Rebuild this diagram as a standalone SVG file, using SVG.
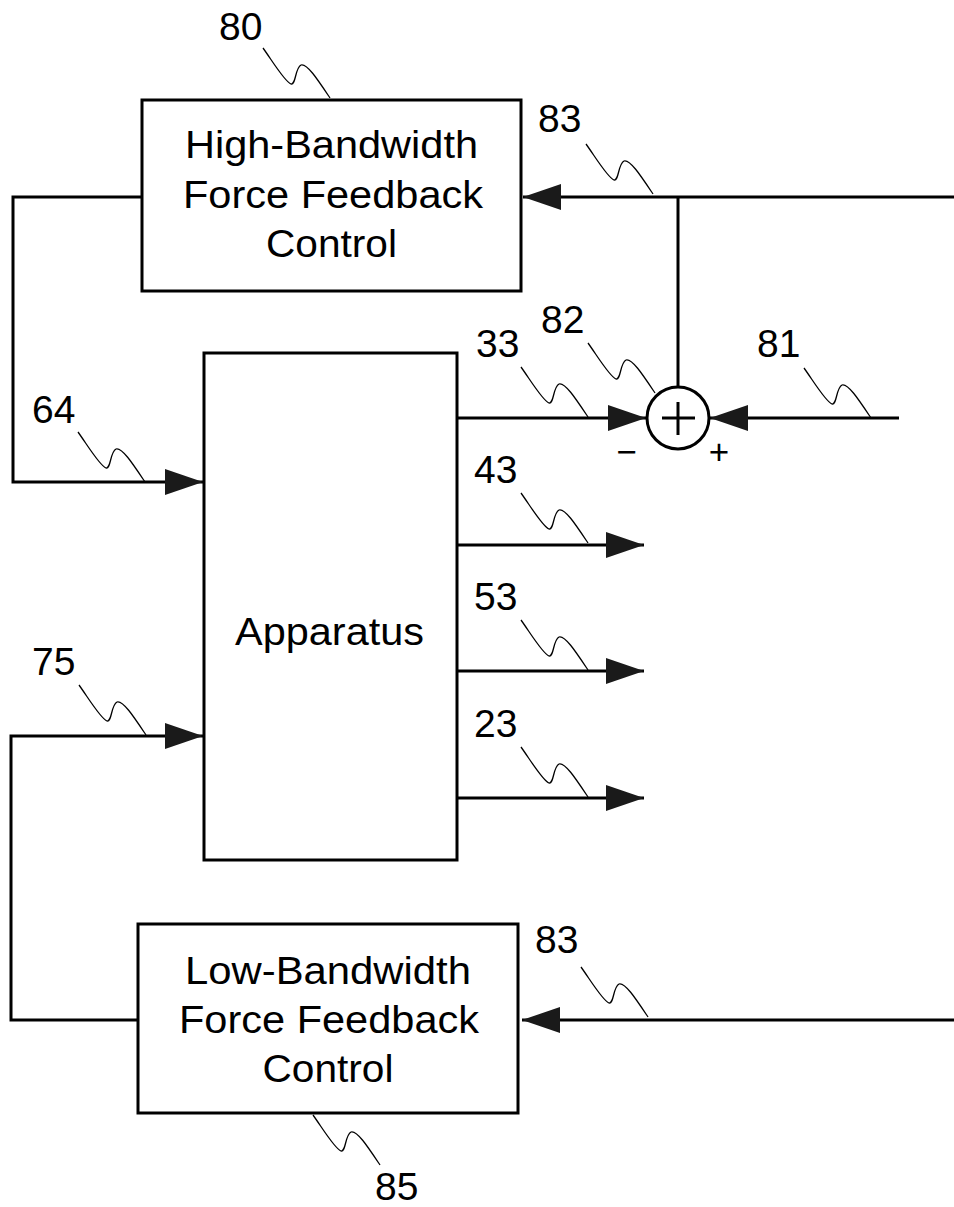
<svg xmlns="http://www.w3.org/2000/svg" xmlns:xlink="http://www.w3.org/1999/xlink" width="954" height="1207" viewBox="0 0 954 1207">
<style>
.box{fill:#fff;stroke:#000;stroke-width:3}
.ln{fill:none;stroke:#000;stroke-width:3}
.sq{fill:none;stroke:#000;stroke-width:1.3}
.t{font-family:"Liberation Sans",Arial,sans-serif;font-size:38px;fill:#000;text-anchor:middle}
.n{font-family:"Liberation Sans",Arial,sans-serif;font-size:39px;fill:#000}
.s{font-family:"Liberation Sans",Arial,sans-serif;font-size:35px;fill:#000;text-anchor:middle}
</style>
<defs>
<marker id="ah" viewBox="0 0 38 26" refX="38" refY="13" markerWidth="38" markerHeight="26" markerUnits="userSpaceOnUse" orient="auto">
<path d="M0,0 L38,13 L0,26 Z" fill="#1a1a1a"/>
</marker>
<path id="wave" d="M0,0 C10,14 22,34 28,36 C33,37 32,20 38,17 C44,15 55,32 67,50"/>
</defs>
<rect width="954" height="1207" fill="#fff"/>
<g id="connectors">
<path class="ln" d="M954,197 L523,197" marker-end="url(#ah)"/>
<path class="ln" d="M678,197 L678,387"/>
<path class="ln" d="M457,418 L646,418" marker-end="url(#ah)"/>
<path class="ln" d="M899,418 L710,418" marker-end="url(#ah)"/>
<path class="ln" d="M142,197 L13,197 L13,482 L203,482" marker-end="url(#ah)"/>
<path class="ln" d="M457,545 L644,545" marker-end="url(#ah)"/>
<path class="ln" d="M457,671 L644,671" marker-end="url(#ah)"/>
<path class="ln" d="M457,798 L644,798" marker-end="url(#ah)"/>
<path class="ln" d="M138,1020 L11,1020 L11,736 L203,736" marker-end="url(#ah)"/>
<path class="ln" d="M954,1020 L522,1020" marker-end="url(#ah)"/>
</g>
<g id="hbffc">
<rect class="box" x="142" y="100" width="379" height="191"/>
<text class="t" x="331.5" y="158" textLength="293" lengthAdjust="spacingAndGlyphs">High-Bandwidth</text>
<text class="t" x="333" y="208" textLength="300" lengthAdjust="spacingAndGlyphs">Force Feedback</text>
<text class="t" x="331.5" y="257" textLength="131" lengthAdjust="spacingAndGlyphs">Control</text>
</g>
<g id="apparatus">
<rect class="box" x="204" y="353" width="253" height="507"/>
<text class="t" x="329.5" y="645" textLength="189" lengthAdjust="spacingAndGlyphs">Apparatus</text>
</g>
<g id="sum">
<circle cx="678" cy="418" r="31" fill="#fff" stroke="#000" stroke-width="3"/>
<path class="ln" d="M662,418 L695,418 M678,402 L678,435" stroke-width="2.5"/>
<text class="s" x="626.5" y="464">−</text>
<text class="s" x="719" y="464">+</text>
</g>
<g id="lbffc">
<rect class="box" x="138" y="924" width="380" height="189"/>
<text class="t" x="328" y="984" textLength="286" lengthAdjust="spacingAndGlyphs">Low-Bandwidth</text>
<text class="t" x="329" y="1033" textLength="300" lengthAdjust="spacingAndGlyphs">Force Feedback</text>
<text class="t" x="328" y="1082" textLength="131" lengthAdjust="spacingAndGlyphs">Control</text>
</g>
<g id="labels">
<text class="n" x="219" y="40">80</text>
<text class="n" x="538" y="132">83</text>
<text class="n" x="541" y="333">82</text>
<text class="n" x="476" y="357">33</text>
<text class="n" x="757" y="357">81</text>
<text class="n" x="32" y="423">64</text>
<text class="n" x="474" y="483">43</text>
<text class="n" x="474" y="610">53</text>
<text class="n" x="474" y="737">23</text>
<text class="n" x="32" y="675">75</text>
<text class="n" x="535" y="953">83</text>
<text class="n" x="375" y="1200">85</text>
</g>
<g id="leaders" class="sq">
<use xlink:href="#wave" x="263" y="48"/>
<use xlink:href="#wave" x="586" y="144"/>
<use xlink:href="#wave" x="588" y="343"/>
<use xlink:href="#wave" x="521" y="367"/>
<use xlink:href="#wave" x="804" y="368"/>
<use xlink:href="#wave" x="78" y="432"/>
<use xlink:href="#wave" x="521" y="493"/>
<use xlink:href="#wave" x="521" y="620"/>
<use xlink:href="#wave" x="521" y="747"/>
<use xlink:href="#wave" x="79" y="685"/>
<use xlink:href="#wave" x="581" y="967"/>
<use xlink:href="#wave" x="313" y="1115"/>
</g>
</svg>
